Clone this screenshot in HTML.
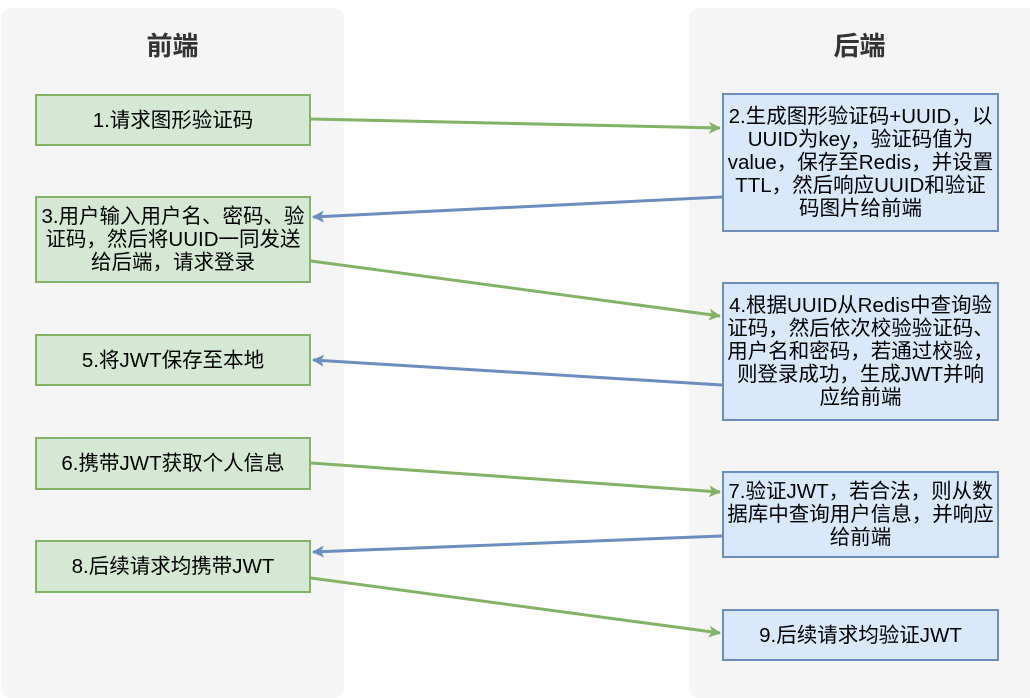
<!DOCTYPE html>
<html><head><meta charset="utf-8"><style>
body{margin:0;width:1030px;height:685px;background:#fff;position:relative;overflow:hidden;font-family:"Liberation Sans","Noto Sans CJK SC",sans-serif;}
.panel{position:absolute;background:#f5f5f5;border-radius:10px;}
.title{position:absolute;font-weight:bold;font-size:26px;color:#333;text-align:center;width:100%;top:18px;}
.b{position:absolute;display:flex;align-items:center;justify-content:center;text-align:center;font-size:20.5px;line-height:23px;color:#000;box-sizing:border-box;padding:0 3px;}
.g{background:#d5e8d4;border:2px solid #82b366;left:35px;width:276px;}
.u{background:#dae8fc;border:2px solid #6c8ebf;left:722px;width:277px;}
svg{position:absolute;left:0;top:0;}
</style></head><body>
<div class="panel" style="left:1px;top:8px;width:343px;height:690px"><div class="title">前端</div></div>
<div class="panel" style="left:689px;top:8px;width:350px;height:690px"><div class="title" style="width:341px">后端</div></div>

<div class="b g" style="top:94px;height:52px">1.请求图形验证码</div>
<div class="b g" style="top:196px;height:87px">3.用户输入用户名、密码、验证码，然后将UUID一同发送给后端，请求登录</div>
<div class="b g" style="top:334px;height:52px">5.将JWT保存至本地</div>
<div class="b g" style="top:437px;height:53px">6.携带JWT获取个人信息</div>
<div class="b g" style="top:540px;height:53px">8.后续请求均携带JWT</div>

<div class="b u" style="top:93px;height:139px">2.生成图形验证码+UUID，以UUID为key，验证码值为value，保存至Redis，并设置TTL，然后响应UUID和验证码图片给前端</div>
<div class="b u" style="top:282px;height:139px">4.根据UUID从Redis中查询验证码，然后依次校验验证码、用户名和密码，若通过校验，则登录成功，生成JWT并响应给前端</div>
<div class="b u" style="top:471px;height:87px">7.验证JWT，若合法，则从数据库中查询用户信息，并响应给前端</div>
<div class="b u" style="top:609px;height:52px">9.后续请求均验证JWT</div>

<svg width="1030" height="685">
<defs>
<marker id="ag" markerWidth="12" markerHeight="12" refX="11" refY="6" orient="auto" markerUnits="userSpaceOnUse"><path d="M0,0 L12,6 L0,12 L3,6Z" fill="#82b366"/></marker>
<marker id="ab" markerWidth="12" markerHeight="12" refX="11" refY="6" orient="auto" markerUnits="userSpaceOnUse"><path d="M0,0 L12,6 L0,12 L3,6Z" fill="#6c8ebf"/></marker>
</defs>
<g stroke-width="3" fill="none">
<line x1="311" y1="119" x2="720" y2="128" stroke="#82b366" marker-end="url(#ag)"/>
<line x1="722" y1="197" x2="313" y2="217" stroke="#6c8ebf" marker-end="url(#ab)"/>
<line x1="311" y1="261" x2="720" y2="316" stroke="#82b366" marker-end="url(#ag)"/>
<line x1="722" y1="385" x2="313" y2="360" stroke="#6c8ebf" marker-end="url(#ab)"/>
<line x1="311" y1="463" x2="720" y2="492" stroke="#82b366" marker-end="url(#ag)"/>
<line x1="722" y1="536" x2="313" y2="552" stroke="#6c8ebf" marker-end="url(#ab)"/>
<line x1="311" y1="578" x2="720" y2="633" stroke="#82b366" marker-end="url(#ag)"/>
</g>
</svg>
</body></html>
